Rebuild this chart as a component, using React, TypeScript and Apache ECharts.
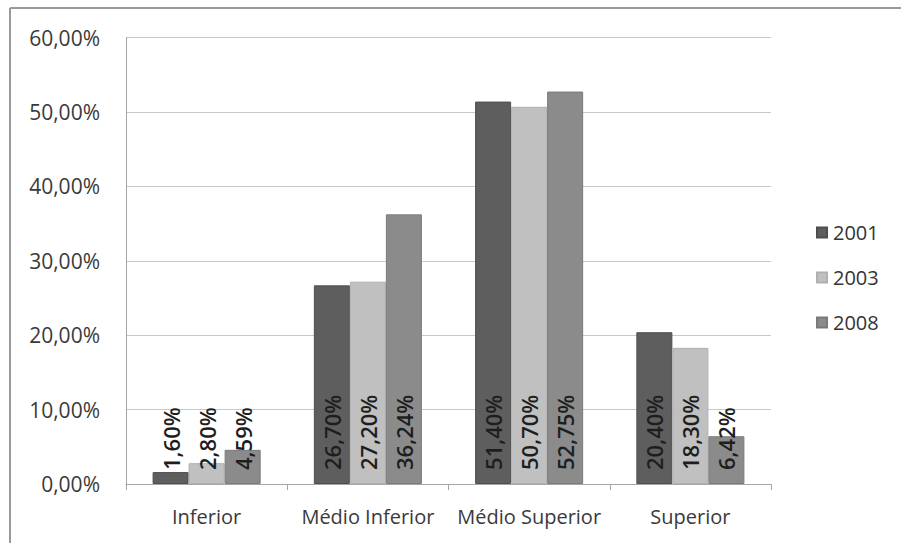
import React, { useEffect, useRef } from "react";
import * as echarts from "echarts";

const categories = ["Inferior", "Médio Inferior", "Médio Superior", "Superior"];
const seriesNames = ["2001", "2003", "2008"];
const values2001 = [1.6, 26.7, 51.4, 20.4];
const values2003 = [2.8, 27.2, 50.7, 18.3];
const values2008 = [4.59, 36.24, 52.75, 6.42];
const colors = ["#5e5e5e", "#c0c0c0", "#8b8b8b"];
const borders = ["#4e4e4e", "#b0b0b0", "#7a7a7a"];

const fmt = (v: number) => v.toFixed(2).replace(".", ",") + "%";
const FONT = "'Open Sans', 'Liberation Sans', sans-serif";

export default function App() {
  const ref = useRef<HTMLDivElement>(null);
  useEffect(() => {
    if (!ref.current) return;
    const chart = echarts.init(ref.current, undefined, { renderer: "svg" });
    const data = [values2001, values2003, values2008];
    chart.setOption({
      animation: false,
      backgroundColor: "#ffffff",
      textStyle: { fontFamily: FONT },
      graphic: [
        { type: "line", shape: { x1: 10, y1: 8, x2: 901, y2: 8 }, style: { stroke: "#9a9a9a", lineWidth: 2 } },
        { type: "line", shape: { x1: 10, y1: 8, x2: 10, y2: 543 }, style: { stroke: "#9a9a9a", lineWidth: 2 } },
      ],
      grid: { left: 126, right: 130, top: 37.6, bottom: 59, containLabel: false },
      legend: {
        orient: "vertical",
        left: 811,
        top: 217,
        itemWidth: 10,
        itemHeight: 10,
        itemGap: 24,
        icon: "rect",
        textStyle: { fontSize: 20, lineHeight: 21, color: "#333", fontFamily: FONT, padding: [0, 0, 0, 1] },
        data: seriesNames,
      },
      xAxis: {
        type: "category",
        data: categories,
        axisLine: { lineStyle: { color: "#a6a6a6" } },
        axisTick: { show: true, length: 6, lineStyle: { color: "#a6a6a6" } },
        axisLabel: { fontSize: 20, color: "#3a3a3a", margin: 22, interval: 0, hideOverlap: false, fontFamily: FONT },
      },
      yAxis: {
        type: "value",
        min: 0,
        max: 60,
        interval: 10,
        axisLine: { show: true, lineStyle: { color: "#a6a6a6" } },
        axisTick: { show: false },
        splitLine: { lineStyle: { color: "#c8c8c8" } },
        axisLabel: { fontSize: 21, color: "#3a3a3a", margin: 26, formatter: (v: number) => fmt(v), fontFamily: FONT },
      },
      series: seriesNames.map((name, i) => ({
        name,
        type: "bar",
        data: data[i],
        barGap: "0%",
        barCategoryGap: "33%",
        itemStyle: { color: colors[i], borderColor: borders[i], borderWidth: 1 },
        label: {
          show: true,
          position: "insideBottom",
          rotate: 90,
          align: "left",
          verticalAlign: "middle",
          distance: 14,
          fontSize: 22,
          fontWeight: 600,
          color: "#1e1e1e",
          fontFamily: FONT,
          formatter: (p: any) => fmt(p.value),
        },
      })),
    });
    return () => chart.dispose();
  }, []);
  return <div ref={ref} style={{ width: 901, height: 543, position: "absolute", left: 0, top: 0 }} />;
}
